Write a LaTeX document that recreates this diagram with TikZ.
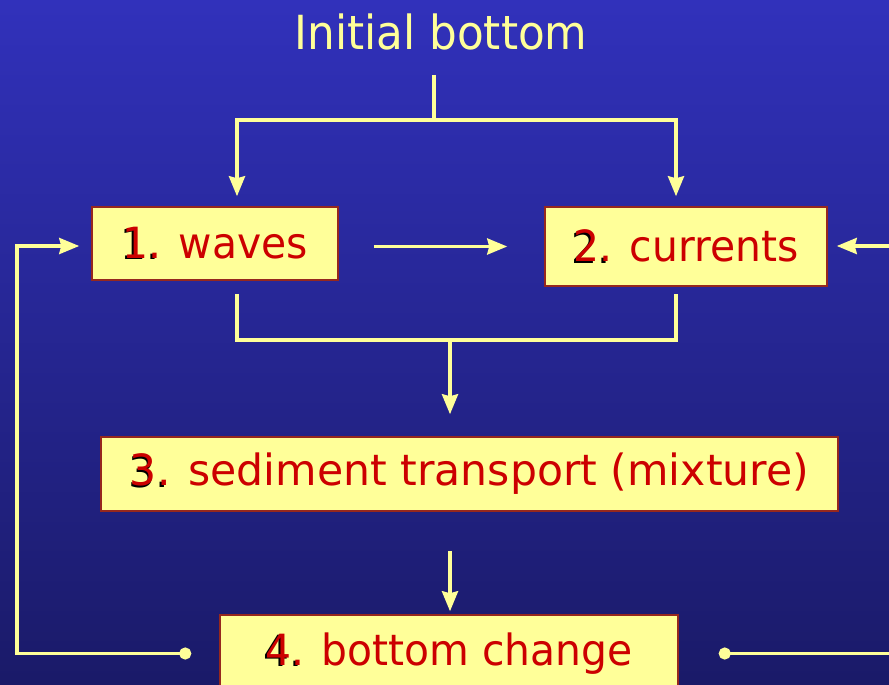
\documentclass[tikz,border=0pt]{standalone}
\usepackage{fontspec}
\setmainfont{DejaVu Sans}[FakeStretch=0.95]
\newfontfamily\headfont{DejaVu Sans}[FakeStretch=0.93]
\newfontfamily\widefont{DejaVu Sans}[FakeStretch=0.99]
\usetikzlibrary{arrows.meta}
\definecolor{bgtop}{RGB}{49,49,187}
\definecolor{bgbot}{RGB}{26,26,104}
\definecolor{pale}{RGB}{255,255,153}
\definecolor{boxedge}{RGB}{150,40,30}
\definecolor{textred}{RGB}{204,0,0}
\newcommand{\boxnum}[1]{\makebox[0pt][l]{\hspace{-1.6pt}\raisebox{-1.6pt}{\color{black}#1.}}#1.}
\begin{document}
\begin{tikzpicture}[x=1pt, y=-1pt, >={Stealth[length=20pt, width=16pt, inset=2pt]},
  link/.style={draw=pale, line width=3.6pt},
  box/.style={draw=boxedge, fill=pale, line width=1.5pt, text=textred, inner sep=0pt,
    font=\fontsize{43}{50}\selectfont}]
\shade[top color=bgtop, bottom color=bgbot] (0,0) rectangle (889,685);
\clip (0,0) rectangle (889,685);
\node[text=pale, font=\headfont\fontsize{47}{54}\selectfont] (init) at (441,32) {Initial bottom};
\node[box, minimum width=246pt, minimum height=73pt] (waves) at (215,243.5) {\boxnum{1} waves};
\node[box, minimum width=282pt, minimum height=79pt] (currents) at (686,246.5) {\boxnum{2} currents};
\node[box, minimum width=737pt, minimum height=74pt, font=\widefont\fontsize{43}{50}\selectfont] (sediment) at (469.5,474) {\boxnum{3} sediment transport (mixture)};
\node[box, minimum width=458pt, minimum height=77pt] (change) at (449,653.5) {\boxnum{4} bottom change};
\coordinate (top) at (434,75);
\coordinate (fork) at (434,120);
\coordinate (join) at (450,340);
\coordinate (loop) at (17,246);
\coordinate (rin) at (889,246);
% initial bottom splits to waves and currents
\draw[link] (top) -- (fork);
\draw[link, ->, shorten >=10pt] (fork) -| ([xshift=22pt]waves.north);
\draw[link, ->, shorten >=10pt] (fork) -| ([xshift=-10pt]currents.north);
\draw[link, ->, shorten <=35pt, shorten >=37pt] (currents.west -| waves.east) -- (currents.west);
\draw[link, ->, shorten >=9pt] (rin) -- (currents.east |- rin);
% waves and currents drive transport
\draw[link, shorten <=13pt] ([xshift=22pt]waves.south) |- (join);
\draw[link, shorten <=7pt] ([xshift=-10pt]currents.south) |- (join);
\draw[link, ->, shorten >=22pt] (join) -- (join |- sediment.north);
\draw[link, ->, shorten <=39pt, shorten >=3pt] (join |- sediment.south) -- (join |- change.north);
% feedback of the bottom
\draw[link, {Circle[length=12pt]}->, shorten <=28pt, shorten >=12pt] (change.west) -| (loop) -- (loop -| waves.west);
\draw[link, {Circle[length=12pt]}-, shorten <=40pt] (change.east) -- (change.east -| rin);
\end{tikzpicture}
\end{document}
